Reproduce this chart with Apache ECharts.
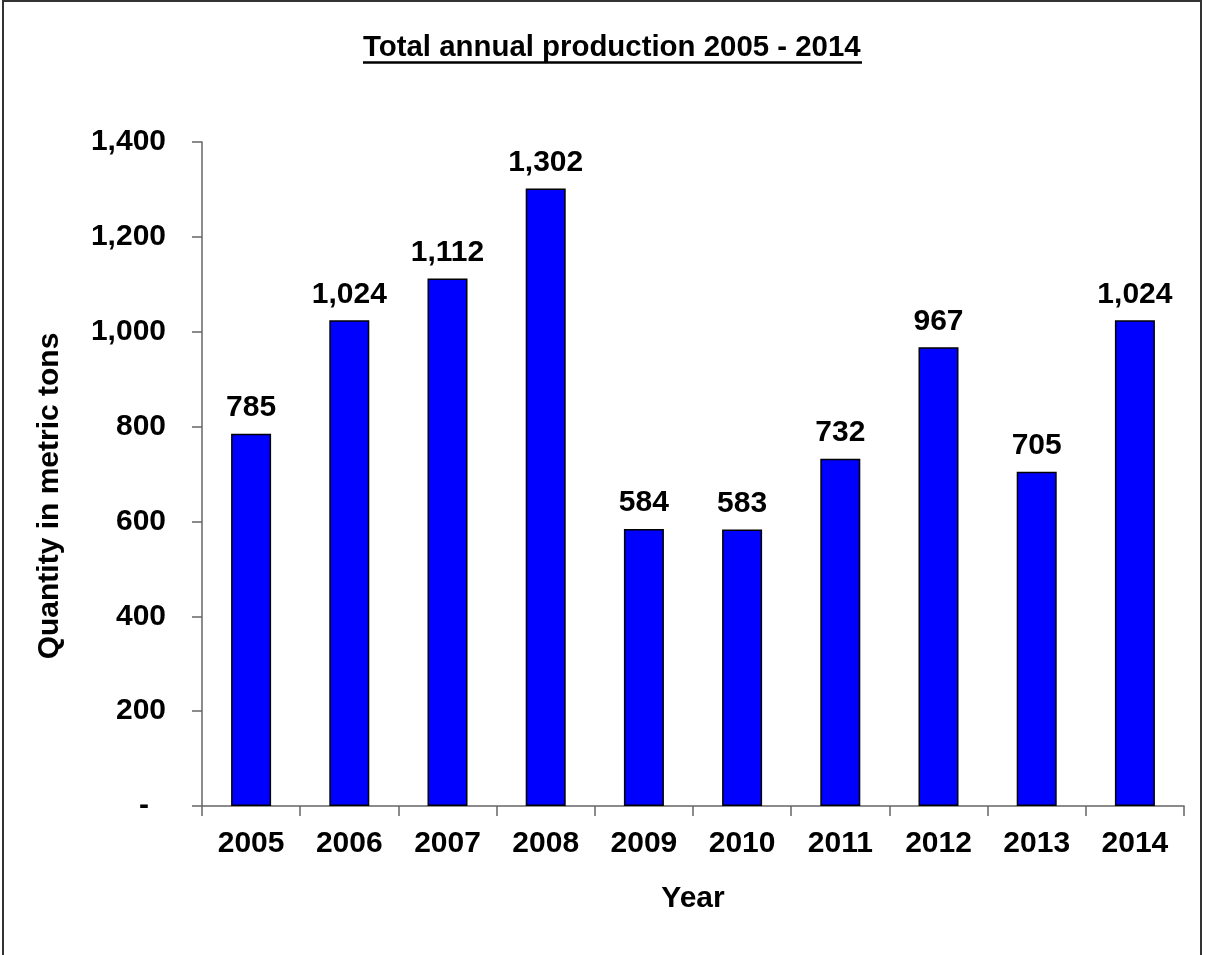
<!DOCTYPE html>
<html>
<head>
<meta charset="utf-8">
<style>
  html, body { margin: 0; padding: 0; background: #fff; }
  #chart { width: 1212px; height: 955px; }
</style>
<script src="https://cdn.jsdelivr.net/npm/echarts@6/dist/echarts.min.js"></script>
</head>
<body>
<div id="chart"></div>
<script>
// Annual production, metric tons
const years = ['2005', '2006', '2007', '2008', '2009', '2010', '2011', '2012', '2013', '2014'];
const production = [785, 1024, 1112, 1302, 584, 583, 732, 967, 705, 1024];
const yTicks = { min: 0, max: 1400, interval: 200 };

const FONT = '"Liberation Sans", Arial, sans-serif';
const chart = echarts.init(document.getElementById('chart'), null, { renderer: 'canvas' });

const fmt = v => v.toLocaleString('en-US');

chart.setOption({
  animation: false,
  backgroundColor: '#ffffff',
  title: {
    text: 'Total annual production 2005 - 2014',
    left: 358,
    top: 28,
    textStyle: { fontFamily: FONT, fontWeight: 'bold', fontSize: 29.4, color: '#000' }
  },
  graphic: [
    {
      type: 'rect',
      shape: { x: 3, y: 1, width: 1198, height: 1000 },
      style: { fill: 'none', stroke: '#333', lineWidth: 2 },
      silent: true
    },
    {
      type: 'line',
      shape: { x1: 363, y1: 62.5, x2: 862, y2: 62.5 },
      style: { stroke: '#000', lineWidth: 2.5 },
      silent: true
    }
  ],
  grid: { left: 202, right: 28, top: 142, bottom: 149 },
  xAxis: {
    type: 'category',
    data: years,
    name: 'Year',
    nameLocation: 'middle',
    nameGap: 78,
    nameTextStyle: { fontFamily: FONT, fontWeight: 'bold', fontSize: 30, color: '#000' },
    axisLine: { lineStyle: { color: '#666', width: 1.5 } },
    axisTick: { show: true, alignWithLabel: false, length: 10, lineStyle: { color: '#666', width: 1.5 } },
    axisLabel: { fontFamily: FONT, fontWeight: 'bold', fontSize: 30, color: '#000', margin: 23 },
    splitLine: { show: false }
  },
  yAxis: {
    type: 'value',
    min: yTicks.min,
    max: yTicks.max,
    interval: yTicks.interval,
    name: 'Quantity in metric tons',
    nameLocation: 'middle',
    nameGap: 137,
    nameRotate: 90,
    nameTextStyle: { fontFamily: FONT, fontWeight: 'bold', fontSize: 30, color: '#000', padding: [0, 44, 0, 0] },
    axisLine: { show: true, lineStyle: { color: '#666', width: 1.5 } },
    axisTick: { show: true, length: 10, lineStyle: { color: '#666', width: 1.5 } },
    axisLabel: {
      fontFamily: FONT, fontWeight: 'bold', fontSize: 30, color: '#000', margin: 36,
      formatter: v => v === 0 ? '{d|-}' : fmt(v),
      rich: { d: { fontFamily: FONT, fontWeight: 'bold', fontSize: 30, color: '#000', padding: [0, 17, 0, 0] } }
    },
    splitLine: { show: false }
  },
  series: [{
    type: 'bar',
    data: production,
    barWidth: 40,
    itemStyle: { color: '#0000ff', borderColor: '#000', borderWidth: 1.5 },
    label: {
      show: true,
      position: 'top',
      distance: 11,
      formatter: p => fmt(p.value),
      fontFamily: FONT, fontWeight: 'bold', fontSize: 30, color: '#000'
    }
  }]
});
</script>
</body>
</html>
